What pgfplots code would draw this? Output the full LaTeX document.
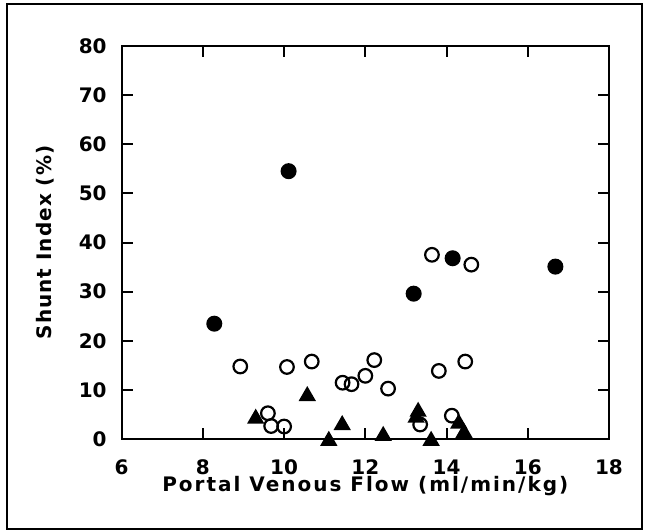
\documentclass[border=0pt]{standalone}
\usepackage{fontspec}
\setmainfont{DejaVu Sans}
\newfontfamily\labfont[LetterSpace=10]{DejaVu Sans Bold}
\newfontfamily\ylabfont[LetterSpace=5]{DejaVu Sans Bold}
\newfontfamily\tickfont{DejaVu Sans Bold}
\usepackage{pgfplots}
\pgfplotsset{compat=1.18}
\begin{document}
\begin{tikzpicture}[x=1pt,y=1pt]
\useasboundingbox (-60.85,-45.85) rectangle (261.65,219.65);
\draw[line width=1pt] (-57.35,-44.85) rectangle (260.15,217.65);
\begin{axis}[at={(0,0)}, anchor=south west, scale only axis,
  width=243.65pt, height=196.8pt,
  xmin=6, xmax=18, ymin=0, ymax=80,
  xtick={6,8,...,18}, ytick={0,10,...,80},
  tick align=inside, major tick length=5.5pt,
  axis line style={line width=1pt},
  every tick/.style={line width=1pt, black},
  tick label style={font=\tickfont\fontsize{10}{12}\selectfont},
  xticklabel style={yshift=-6.6pt},
  yticklabel style={xshift=-4pt},
  /pgf/number format/assume math mode=true,
  clip=false]
\addplot[only marks, mark=*, mark size=3.5pt, mark options={fill=black, draw=black, line width=1pt}]
  coordinates {(8.28,23.5) (10.11,54.5) (13.19,29.6) (14.15,36.8) (16.68,35.1)};
\addplot[only marks, mark=o, mark size=3.4pt, mark options={draw=black, line width=1.1pt}]
  coordinates {(8.92,14.8) (10.07,14.7) (10.68,15.8) (9.6,5.3) (9.68,2.7) (10.0,2.6)
  (11.44,11.5) (11.66,11.2) (12.0,12.9) (12.22,16.1) (12.56,10.3) (13.35,3.0)
  (13.64,37.5) (13.81,13.9) (14.13,4.8) (14.46,15.8) (14.61,35.5)};
\addplot[only marks, mark=triangle*, mark size=4.2pt, mark options={fill=black, draw=black, line width=0.8pt}]
  coordinates {(9.3,4.2) (10.57,8.8) (11.1,-0.3) (11.43,2.9) (12.44,0.7) (13.3,5.6) (13.25,4.4)
  (13.62,-0.3) (14.3,3.2) (14.43,1.3)};
\end{axis}
\node[font=\labfont\fontsize{10}{12}\selectfont] at (121.8,-23.5) {Portal Venous Flow (ml/min/kg)};
\node[font=\ylabfont\fontsize{10}{12}\selectfont, rotate=90] at (-38.3,98.4) {Shunt Index (\%)};
\end{tikzpicture}
\end{document}
